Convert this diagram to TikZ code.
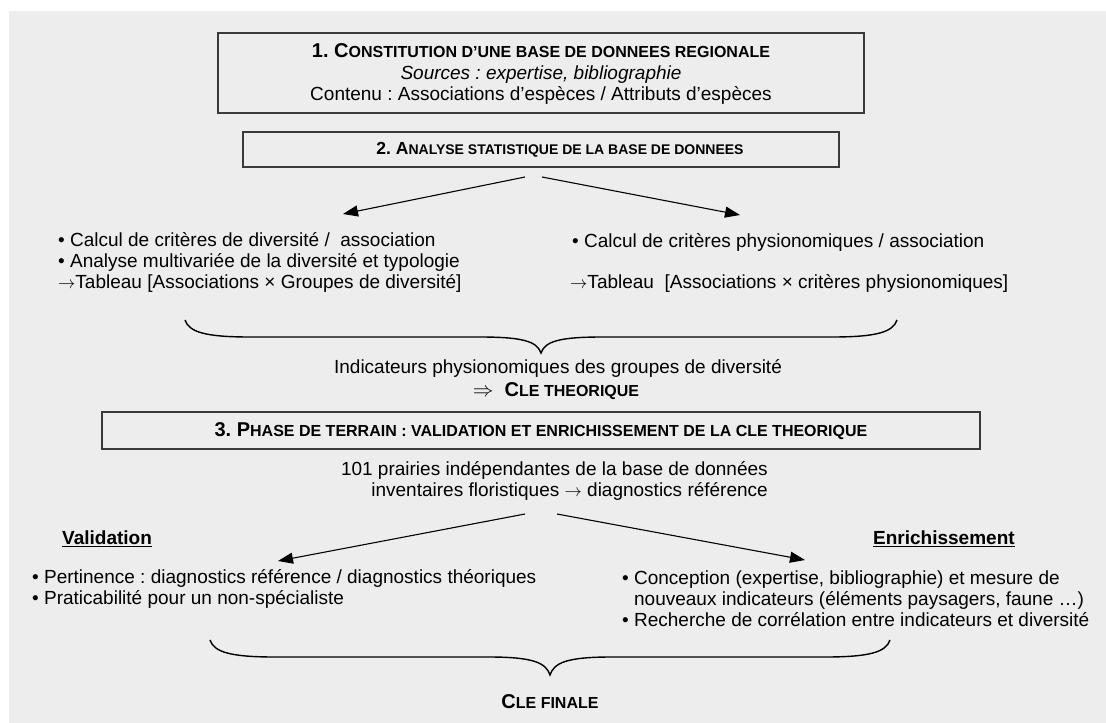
\documentclass[tikz,border=0pt]{standalone}
\usepackage{fontspec}
\setmainfont{Liberation Sans}
\usetikzlibrary{arrows.meta}
\definecolor{bgc}{HTML}{EDEDED}
\definecolor{boxc}{HTML}{3A3A3A}
\newcommand\smcap[1]{{\fontsize{16}{18}\selectfont #1}}
\newcommand\smcapb[1]{{\fontsize{14}{16}\selectfont #1}}
\tikzset{
  boxnode/.style={draw=boxc, line width=1.6pt, inner sep=0pt, align=center},
  txt/.style={inner sep=0pt, font=\fontsize{19}{21}\selectfont},
  ttl/.style={inner sep=0pt, font=\fontsize{20}{22}\selectfont\bfseries},
  arr/.style={line width=1.1pt, -{Triangle[length=15pt,width=11pt]}},
  bracepath/.style={line width=1.4pt}
}
\begin{document}
\frenchspacing
\begin{tikzpicture}[x=1pt,y=-1pt]
\useasboundingbox (0,0) rectangle (1106,723);
\fill[white] (0,0) rectangle (1106,723);
\fill[bgc] (9,11) rectangle (1106,723);

% Box 1
\node[boxnode, minimum width=646pt, minimum height=80pt] (b1) at (541,73) {};
\node[txt, align=center, font=\fontsize{19}{21.5}\selectfont] (t1) at (541,74)
  {{\fontsize{20}{22}\selectfont\bfseries 1. C\smcap{ONSTITUTION D’UNE BASE DE DONNEES REGIONALE}}\\
   {\itshape Sources : expertise, bibliographie}\\
   Contenu : Associations d’espèces / Attributs d’espèces};

% Box 2
\node[boxnode, minimum width=596pt, minimum height=35pt] (b2) at (541,149.5) {};
\node[inner sep=0pt, font=\fontsize{17.5}{20}\selectfont\bfseries] (t2) at (560,150) {2. A\smcapb{NALYSE STATISTIQUE DE LA BASE DE DONNEES}};

% arrows from box 2
\coordinate (a1s) at (525,177);
\coordinate (a1e) at (343,214);
\coordinate (a2s) at (542,177);
\coordinate (a2e) at (740,215);
\draw[arr] (a1s) -- (a1e);
\draw[arr] (a2s) -- (a2e);

% left text block
\node[txt, anchor=west, align=left] (l1) at (58,262.5)
  {• Calcul de critères de diversité / \ association\\
   • Analyse multivariée de la diversité et typologie\\
   $\rightarrow$Tableau [Associations × Groupes de diversité]};
% right text block
\node[txt, anchor=west] (r1) at (572,242) {• Calcul de critères physionomiques / association};
\node[txt, anchor=west] (r2) at (570,283) {$\rightarrow$Tableau \ [Associations × critères physionomiques]};

% brace 1
\draw[bracepath] (185,320) .. controls (189,332) and (205,337) .. (250,337) -- (480,337)
  .. controls (525,337) and (537,342) .. (541,353)
  .. controls (545,342) and (557,337) .. (602,337) -- (832,337)
  .. controls (877,337) and (893,332) .. (897,320);

\node[txt] (ind) at (558,368) {Indicateurs physionomiques des groupes de diversité};
\node[ttl] (cth) at (556,391) {$\Rightarrow$\ \ C\smcap{LE THEORIQUE}};

% Box 3
\node[boxnode, minimum width=878pt, minimum height=37pt] (b3) at (541,430.5) {};
\node[ttl] (t3) at (541,431) {3. P\smcap{HASE DE TERRAIN : VALIDATION ET ENRICHISSEMENT DE LA CLE THEORIQUE}};

\node[txt, anchor=east, align=right] (pr) at (768,481)
  {101 prairies indépendantes de la base de données\\
   inventaires floristiques $\rightarrow$ diagnostics référence};

\coordinate (a3s) at (525,514);
\coordinate (a3e) at (278,561);
\coordinate (a4s) at (557,514);
\coordinate (a4e) at (805,560);
\draw[arr] (a3s) -- (a3e);
\draw[arr] (a4s) -- (a4e);

\node[txt, anchor=west, font=\fontsize{19}{21}\selectfont\bfseries] (val) at (62,539) {\underline{Validation}};
\node[txt, anchor=west, font=\fontsize{19}{21}\selectfont\bfseries] (enr) at (873,539) {\underline{Enrichissement}};

\node[txt, anchor=west, align=left] (lv) at (32,588.5)
  {• Pertinence : diagnostics référence / diagnostics théoriques\\
   • Praticabilité pour un non-spécialiste};
\node[txt, anchor=west, align=left] (re) at (622,599)
  {• Conception (expertise, bibliographie) et mesure de\\
   \phantom{• }nouveaux indicateurs (éléments paysagers, faune …)\\
   • Recherche de corrélation entre indicateurs et diversité};

% brace 2
\draw[bracepath] (210,640) .. controls (214,652) and (230,657) .. (275,657) -- (489,657)
  .. controls (534,657) and (546,663) .. (550,675)
  .. controls (554,663) and (566,657) .. (611,657) -- (825,657)
  .. controls (870,657) and (886,652) .. (890,640);

\node[ttl] (cf) at (550,702) {C\smcap{LE FINALE}};
\end{tikzpicture}
\end{document}
